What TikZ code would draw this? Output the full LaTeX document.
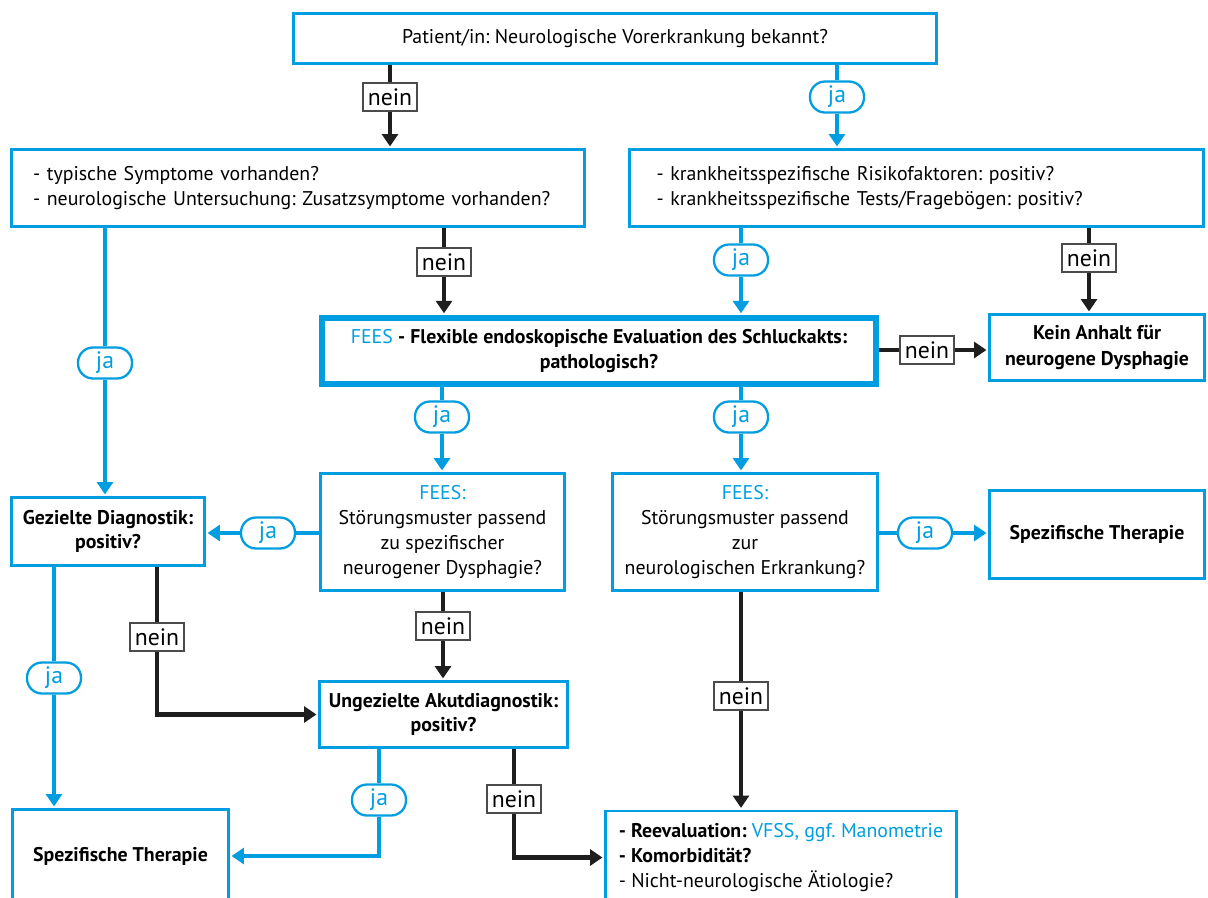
\documentclass[tikz,border=0pt]{standalone}
\usepackage{fontspec}
\setmainfont{PT Sans}
\usetikzlibrary{arrows.meta}
\definecolor{fblue}{RGB}{0,158,224}
\definecolor{fblack}{RGB}{30,30,30}
\frenchspacing
\tikzstyle{box} = [rectangle, draw=fblue, line width=1.5pt, fill=white, align=center, inner sep=2pt]
\tikzstyle{bigbox} = [box, line width=3.4pt]
\tikzstyle{listbox} = [box, align=left]
\tikzstyle{jalabel} = [rectangle, rounded corners=0.3cm, draw=fblue, line width=1.3pt, fill=white, text=fblue, minimum width=1.08cm, minimum height=0.62cm, inner sep=0pt, font=\fontsize{13.5}{14}\selectfont]
\tikzstyle{neinlabel} = [rectangle, draw=fblack!80, line width=1pt, fill=white, minimum width=1.08cm, minimum height=0.56cm, inner sep=0pt, font=\fontsize{13.5}{14}\selectfont]
\tikzstyle{jaline} = [draw=fblue, line width=2.7pt]
\tikzstyle{jaarrow} = [jaline, -{Triangle[length=7pt,width=9pt]}, shorten >=1pt]
\tikzstyle{neinline} = [draw=fblack, line width=2.7pt]
\tikzstyle{neinarrow} = [neinline, -{Triangle[length=7pt,width=9pt]}, shorten >=1pt]

\begin{document}
\begin{tikzpicture}
[x=0.02cm, y=-0.02cm, font=\fontsize{11.3}{14.3}\selectfont]

\useasboundingbox (0,0) rectangle (1208,897);

% boxes
\node (top) [box, minimum width=12.86cm, minimum height=1cm] at (615,38.5) {Patient/in: Neurologische Vorerkrankung bekannt?};
\node (sym) [listbox, minimum width=11.46cm, minimum height=1.54cm, text width=10.6cm, inner xsep=0.43cm] at (298,188) {- typische Symptome vorhanden?\\- neurologische Untersuchung: Zusatzsymptome vorhanden?};
\node (risk) [listbox, minimum width=11.48cm, minimum height=1.54cm, text width=10.4cm, inner xsep=0.54cm] at (916.5,188) {- krankheitsspezifische Risikofaktoren: positiv?\\- krankheitsspezifische Tests/Fragebögen: positiv?};
\node (fees) [bigbox, minimum width=11.08cm, minimum height=1.32cm] at (599,351) {{\color{fblue}FEES} \textbf{- Flexible endoskopische Evaluation des Schluckakts:}\\\textbf{pathologisch?}};
\node (kein) [box, font=\fontsize{11.3}{14.3}\selectfont\bfseries, minimum width=4.3cm, minimum height=1.32cm] at (1097,347.5) {Kein Anhalt für\\neurogene Dysphagie};
\node (gez) [box, font=\fontsize{11.3}{13.5}\selectfont\bfseries, minimum width=3.86cm, minimum height=1.36cm] at (108,531.5) {Gezielte Diagnostik:\\positiv?};
\node (feesa) [box, minimum width=4.88cm, minimum height=2.34cm] at (442.5,532) {{\color{fblue}FEES:}\\Störungsmuster passend\\zu spezifischer\\neurogener Dysphagie?};
\node (feesb) [box, minimum width=5.3cm, minimum height=2.34cm] at (745,532) {{\color{fblue}FEES:}\\Störungsmuster passend\\zur\\neurologischen Erkrankung?};
\node (sthr) [box, font=\fontsize{11.3}{14.3}\selectfont\bfseries, minimum width=4.3cm, minimum height=1.76cm] at (1097,534.5) {Spezifische Therapie};
\node (ung) [box, font=\fontsize{11.3}{13.5}\selectfont\bfseries, minimum width=4.96cm, minimum height=1.32cm] at (443.5,714.5) {Ungezielte Akutdiagnostik:\\positiv?};
\node (sthl) [box, font=\fontsize{11.3}{14.3}\selectfont\bfseries, minimum width=4.32cm, minimum height=1.86cm] at (120.5,856) {Spezifische Therapie};
\node (reev) [listbox, minimum width=7.02cm, minimum height=1.86cm] at (781,857.5) {\textbf{- Reevaluation:} {\color{fblue}VFSS, ggf. Manometrie}\\\textbf{- Komorbidität?}\\- Nicht-neurologische Ätiologie?};

% labels
\node (n1) [neinlabel] at (390,97) {nein};
\node (j1) [jalabel] at (837,97) {ja};
\node (j2) [jalabel] at (105,363) {ja};
\node (n2) [neinlabel] at (444,262) {nein};
\node (j3) [jalabel] at (741,260) {ja};
\node (n3) [neinlabel] at (1089,258) {nein};
\node (n4) [neinlabel] at (927,350) {nein};
\node (j4) [jalabel] at (442,417) {ja};
\node (j5) [jalabel] at (741,417) {ja};
\node (j6) [jalabel] at (268,533) {ja};
\node (j7) [jalabel] at (925,533) {ja};
\node (n5) [neinlabel] at (443,626) {nein};
\node (j8) [jalabel] at (54,678) {ja};
\node (n6) [neinlabel] at (157,637) {nein};
\node (j9) [jalabel] at (379,800) {ja};
\node (n7) [neinlabel] at (514,799) {nein};
\node (n8) [neinlabel] at (741,696) {nein};

% connectors
\draw [neinline] (top.south -| n1) -- (n1);
\draw [neinarrow] (n1) -- (sym.north -| n1);
\draw [jaline] (top.south -| j1) -- (j1);
\draw [jaarrow] (j1) -- (risk.north -| j1);
\draw [jaline] (sym.south -| j2) -- (j2);
\draw [jaarrow] (j2) -- (gez.north -| j2);
\draw [neinline] (sym.south -| n2) -- (n2);
\draw [neinarrow] (n2) -- (fees.north -| n2);
\draw [jaline] (risk.south -| j3) -- (j3);
\draw [jaarrow] (j3) -- (fees.north -| j3);
\draw [neinline] (risk.south -| n3) -- (n3);
\draw [neinarrow] (n3) -- (kein.north -| n3);
\draw [neinline] (fees.east |- n4) -- (n4);
\draw [neinarrow] (n4) -- (kein.west |- n4);
\draw [jaline] (fees.south -| j4) -- (j4);
\draw [jaarrow] (j4) -- (feesa.north -| j4);
\draw [jaline] (fees.south -| j5) -- (j5);
\draw [jaarrow] (j5) -- (feesb.north -| j5);
\draw [jaline] (feesa.west |- j6) -- (j6);
\draw [jaarrow] (j6) -- (gez.east |- j6);
\draw [jaline] (feesb.east |- j7) -- (j7);
\draw [jaarrow] (j7) -- (sthr.west |- j7);
\draw [neinline] (feesa.south -| n5) -- (n5);
\draw [neinarrow] (n5) -- (ung.north -| n5);
\draw [jaline] (gez.south -| j8) -- (j8);
\draw [jaarrow] (j8) -- (sthl.north -| j8);
\draw [neinline] (gez.south -| n6) -- (n6);
\draw [neinarrow] (n6) |- (ung.west);
\draw [jaline] (ung.south -| j9) -- (j9);
\draw [jaarrow] (j9) |- (sthl.east);
\draw [neinline] (ung.south -| n7) -- (n7);
\draw [neinarrow] (n7) |- (reev.west);
\draw [neinline] (feesb.south -| n8) -- (n8);
\draw [neinarrow] (n8) -- (reev.north -| n8);

\end{tikzpicture}
\end{document}
